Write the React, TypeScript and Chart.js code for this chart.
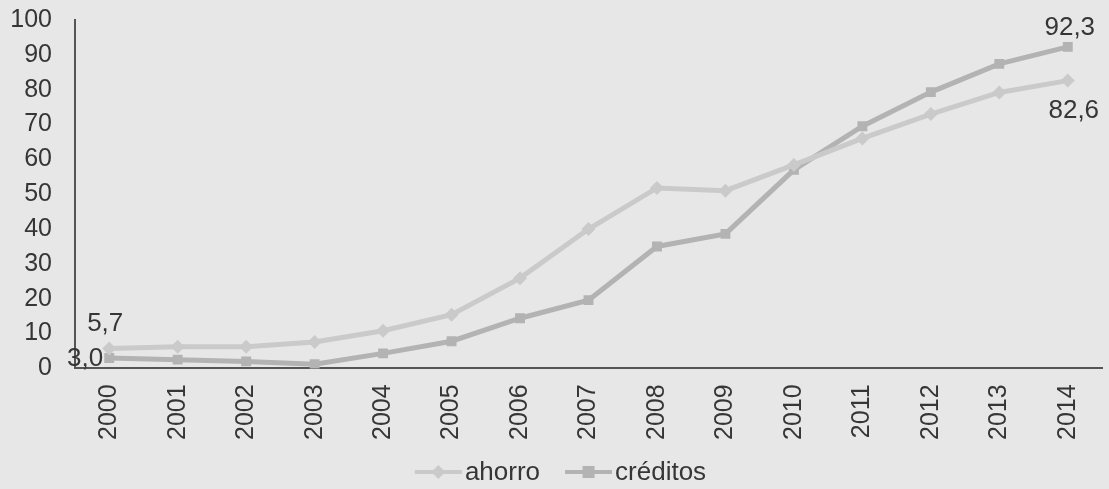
import React, { useEffect, useRef } from "react";
import { Chart, registerables } from "chart.js";

Chart.register(...registerables);

const years = ["2000","2001","2002","2003","2004","2005","2006","2007","2008","2009","2010","2011","2012","2013","2014"];
const ahorro = [5.7, 6.2, 6.2, 7.6, 10.8, 15.4, 25.9, 40.0, 51.8, 51.0, 58.4, 66.0, 73.0, 79.2, 82.6];
const creditos = [3.0, 2.5, 2.0, 1.2, 4.3, 7.8, 14.4, 19.6, 35.0, 38.6, 57.0, 69.5, 79.3, 87.4, 92.3];
const yTicks = [0, 10, 20, 30, 40, 50, 60, 70, 80, 90, 100];
const seriesNames = ["ahorro", "créditos"];

// value labels: [datasetIndex, pointIndex, text]
const valueLabels: [number, number, string][] = [
  [0, 0, "5,7"],
  [1, 0, "3,0"],
  [1, 14, "92,3"],
  [0, 14, "82,6"],
];

const FONT = "'Liberation Sans', Arial, sans-serif";
const TEXT = "#363636";
const AHORRO_COLOR = "#cacaca";
const CRED_COLOR = "#b3b3b3";
const COLORS = [AHORRO_COLOR, CRED_COLOR];
const STYLES = ["rectRot", "rect"];

const labelPlugin = {
  id: "valueLabels",
  afterDatasetsDraw(chart: any) {
    const ctx = chart.ctx;
    ctx.save();
    ctx.font = `26px ${FONT}`;
    ctx.fillStyle = TEXT;
    ctx.textBaseline = "middle";
    valueLabels.forEach(([ds, i, text]) => {
      const el = chart.getDatasetMeta(ds).data[i];
      if (!el) return;
      let x = el.x, y = el.y;
      if (ds === 0 && i === 0) { ctx.textAlign = "center"; x -= 4; y -= 25; }
      else if (ds === 1 && i === 0) { ctx.textAlign = "right"; x -= 6; y += 1; }
      else if (ds === 1) { ctx.textAlign = "center"; x += 2; y -= 19; }
      else { ctx.textAlign = "center"; x += 6; y += 30; }
      ctx.fillText(text, x, y);
    });
    ctx.restore();
  },
};

const legendPlugin = {
  id: "bottomLegend",
  afterDraw(chart: any) {
    const ctx = chart.ctx;
    ctx.save();
    ctx.font = `26px ${FONT}`;
    ctx.textBaseline = "middle";
    ctx.textAlign = "left";
    const iconW = 47, textGap = 3, itemGap = 25;
    const widths = seriesNames.map((n) => iconW + textGap + ctx.measureText(n).width);
    const total = widths.reduce((a, b) => a + b, 0) + itemGap * (seriesNames.length - 1);
    let x = chart.width / 2 - total / 2 + 6;
    const y = chart.height - 17;
    seriesNames.forEach((name, i) => {
      const c = COLORS[i];
      ctx.strokeStyle = c;
      ctx.lineWidth = 4;
      ctx.beginPath();
      ctx.moveTo(x, y);
      ctx.lineTo(x + iconW, y);
      ctx.stroke();
      ctx.fillStyle = c;
      const cx = x + iconW / 2;
      if (STYLES[i] === "rect") {
        ctx.fillRect(cx - 6, y - 6, 12, 12);
      } else {
        ctx.beginPath();
        ctx.moveTo(cx, y - 7);
        ctx.lineTo(cx + 7, y);
        ctx.lineTo(cx, y + 7);
        ctx.lineTo(cx - 7, y);
        ctx.closePath();
        ctx.fill();
      }
      ctx.fillStyle = TEXT;
      ctx.fillText(name, x + iconW + textGap, y + 1);
      x += widths[i] + itemGap;
    });
    ctx.restore();
  },
};

export default function App() {
  const ref = useRef<HTMLCanvasElement>(null);
  useEffect(() => {
    const chart = new Chart(ref.current!, {
      type: "line",
      data: {
        labels: years,
        datasets: [
          {
            label: seriesNames[0],
            data: ahorro,
            borderColor: AHORRO_COLOR,
            backgroundColor: AHORRO_COLOR,
            borderWidth: 5,
            pointStyle: "rectRot",
            pointRadius: 7,
            pointBorderWidth: 0,
            tension: 0,
          },
          {
            label: seriesNames[1],
            data: creditos,
            borderColor: CRED_COLOR,
            backgroundColor: CRED_COLOR,
            borderWidth: 5,
            pointStyle: "rect",
            pointRadius: 7,
            pointBorderWidth: 0,
            tension: 0,
          },
        ],
      },
      options: {
        animation: false,
        responsive: true,
        maintainAspectRatio: false,
        layout: { padding: { top: 0, right: 7, left: 0, bottom: 33 } },
        scales: {
          x: {
            offset: true,
            afterFit: (axis: any) => {
              axis.paddingLeft = 0;
              axis.paddingRight = 0;
            },
            grid: { display: false, drawTicks: false },
            border: { display: true, color: "#555", width: 2 },
            ticks: {
              color: TEXT,
              font: { family: FONT, size: 25 },
              minRotation: 90,
              maxRotation: 90,
              padding: 16,
            },
          },
          y: {
            min: 0,
            max: 100,
            afterBuildTicks: (axis: any) => {
              axis.ticks = yTicks.map((v) => ({ value: v }));
            },
            afterFit: (axis: any) => {
              axis.width = 75;
              axis.paddingTop = 20;
              axis.paddingBottom = 14;
            },
            grid: { display: false, drawTicks: false },
            border: { display: true, color: "#555", width: 2 },
            ticks: {
              color: TEXT,
              font: { family: FONT, size: 25 },
              padding: 23,
            },
          },
        },
        plugins: {
          legend: { display: false },
          tooltip: { enabled: false },
        },
      },
      plugins: [labelPlugin, legendPlugin],
    });
    return () => chart.destroy();
  }, []);

  return (
    <div
      style={{
        position: "fixed",
        left: 0,
        top: 0,
        width: 1109,
        height: 489,
        background: "#e7e7e7",
      }}
    >
      <canvas ref={ref} />
    </div>
  );
}
